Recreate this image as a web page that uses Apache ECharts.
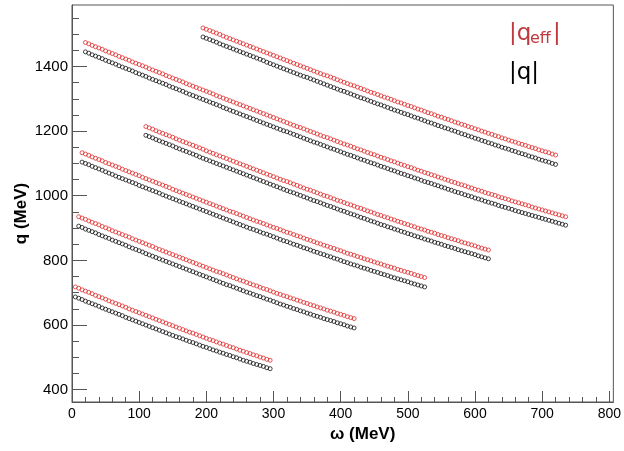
<!DOCTYPE html>
<html>
<head>
<meta charset="utf-8">
<script src="https://cdn.jsdelivr.net/npm/echarts@6/dist/echarts.min.js"></script>
<style>
	html, body { margin: 0; padding: 0; background: #fff; }
	#chart { width: 624px; height: 451px; }
</style>
</head>
<body>
<div id="chart"></div>
<script>
// omega grid: every series is sampled every 5 MeV from its own start
const omegaStep = 5
const omegaStart = [5, 10, 15, 110, 20, 195]

// |q| (black) and |q_eff| (red), MeV, one array per kinematic line
const q1 = [687,683,679,674,670,666,662,658,653,649,645,641,637,633,629,624,620,616,612,608,604,600,596,592,588,584,580,576,572,568,564,561,557,553,549,546,542,538,534,531,527,523,520,516,513,509,506,502,499,495,491,488,485,481,478,475,472,468,465]
const qEff1 = [718,714,709,705,701,697,692,688,684,680,675,671,667,663,659,655,650,646,642,638,634,630,626,622,618,614,610,606,602,598,594,590,586,582,578,575,571,567,563,559,555,552,548,544,541,537,533,530,526,522,519,515,512,508,505,501,498,494,491]

const q2 = [906,902,897,893,889,885,880,876,872,868,863,859,855,851,847,842,838,834,830,826,821,817,813,809,805,801,797,793,789,785,781,777,773,769,765,761,757,753,749,745,741,737,733,729,725,722,718,714,710,706,702,699,695,691,688,684,680,677,673,669,665,662,658,655,651,648,644,641,637,634,630,627,624,620,617,614,611,607,604,601,597,594,591]
const qEff2 = [935,931,927,922,918,914,910,905,901,897,892,888,884,880,876,872,867,863,859,855,851,847,843,838,834,830,826,822,818,814,810,806,802,798,794,790,786,782,778,774,770,766,763,759,755,751,747,743,739,736,732,728,724,721,717,713,710,706,702,698,695,691,688,684,681,677,674,670,667,663,660,656,653,650,646,643,640,636,633,630,626,623,620]

const q3 = [1104,1100,1096,1091,1087,1083,1079,1074,1070,1066,1061,1057,1053,1049,1045,1041,1037,1032,1028,1024,1020,1016,1012,1008,1003,999,995,991,987,983,979,975,971,967,963,959,955,951,947,943,939,935,931,927,923,919,915,911,907,903,899,896,892,888,884,881,877,873,869,865,861,858,854,850,847,843,839,836,832,828,825,821,818,814,811,807,804,800,796,793,789,786,783,779,776,773,769,766,763,759,756,753,749,746,743,740,737,734,730,727,724,721,718]
const qEff3 = [1133,1129,1125,1120,1116,1112,1108,1103,1099,1095,1091,1087,1082,1078,1074,1070,1066,1062,1057,1053,1049,1045,1041,1037,1033,1029,1025,1020,1016,1012,1008,1004,1000,996,992,988,984,980,976,972,968,964,960,956,952,949,945,941,937,933,929,925,921,918,914,910,906,902,899,895,891,887,884,880,876,873,869,865,862,858,854,851,847,844,840,837,833,830,826,822,819,816,812,809,805,802,799,795,792,789,785,782,779,776,772,769,766,763,760,756,753,750,747]

const q4 = [1187,1183,1179,1174,1170,1166,1162,1158,1154,1149,1145,1141,1137,1133,1129,1125,1120,1116,1112,1108,1104,1100,1096,1092,1088,1084,1080,1076,1072,1068,1064,1060,1056,1052,1048,1044,1040,1036,1032,1028,1024,1020,1016,1012,1009,1005,1001,997,993,989,985,982,978,974,970,967,963,959,955,952,948,944,941,937,933,930,926,922,919,915,911,908,904,901,897,894,890,887,883,880,876,873,870,866,863,860,856,853,850,846,843,840,837,833,830,827,824,821,818,814,811,808,805]
const qEff4 = [1214,1210,1206,1201,1197,1193,1189,1185,1181,1176,1172,1168,1164,1160,1156,1152,1148,1144,1139,1135,1131,1127,1123,1119,1115,1111,1107,1103,1099,1095,1091,1087,1083,1079,1075,1071,1067,1063,1059,1055,1051,1047,1044,1040,1036,1032,1028,1024,1020,1017,1013,1009,1005,1001,998,994,990,986,983,979,975,972,968,964,961,957,953,950,946,942,939,935,932,928,925,921,918,914,911,907,904,900,897,894,890,887,884,880,877,874,870,867,864,861,857,854,851,848,845,841,838,835,832]

const q5 = [1445,1441,1436,1432,1428,1424,1419,1415,1411,1407,1402,1398,1394,1390,1386,1381,1377,1373,1369,1364,1360,1356,1352,1348,1344,1339,1335,1331,1327,1323,1318,1314,1310,1306,1302,1298,1294,1290,1286,1282,1278,1273,1269,1265,1261,1257,1253,1249,1245,1241,1237,1233,1229,1225,1221,1217,1213,1209,1205,1201,1198,1194,1190,1186,1182,1178,1174,1170,1166,1163,1159,1155,1151,1147,1144,1140,1136,1132,1128,1125,1121,1117,1113,1110,1106,1102,1099,1095,1091,1088,1084,1080,1077,1073,1069,1066,1062,1059,1055,1052,1048,1044,1041,1038,1034,1031,1027,1024,1020,1017,1013,1010,1007,1003,1000,997,993,990,987,983,980,977,974,970,967,964,961,958,954,951,948,945,942,939,936,933,930,927,924,921,918,915,912,909]
const qEff5 = [1474,1470,1465,1461,1457,1453,1448,1444,1440,1436,1431,1427,1423,1419,1414,1410,1406,1402,1398,1393,1389,1385,1381,1377,1372,1368,1364,1360,1356,1352,1347,1343,1339,1335,1331,1327,1323,1319,1315,1310,1306,1302,1298,1294,1290,1286,1282,1278,1274,1270,1266,1262,1258,1254,1250,1246,1242,1238,1234,1230,1226,1222,1218,1214,1211,1207,1203,1199,1195,1191,1187,1183,1180,1176,1172,1168,1164,1160,1157,1153,1149,1145,1142,1138,1134,1130,1127,1123,1119,1116,1112,1108,1105,1101,1097,1094,1090,1087,1083,1079,1076,1072,1069,1065,1062,1058,1055,1051,1048,1044,1041,1037,1034,1031,1027,1024,1020,1017,1014,1010,1007,1004,1001,997,994,991,988,984,981,978,975,972,969,965,962,959,956,953,950,947,944,941,938,935]

const q6 = [1491,1487,1483,1479,1475,1470,1466,1462,1458,1454,1450,1446,1442,1438,1434,1430,1426,1422,1418,1413,1409,1405,1401,1397,1393,1389,1385,1381,1377,1373,1369,1366,1362,1358,1354,1350,1346,1342,1338,1334,1330,1326,1323,1319,1315,1311,1307,1303,1300,1296,1292,1288,1284,1281,1277,1273,1269,1265,1262,1258,1254,1251,1247,1243,1240,1236,1232,1228,1225,1221,1217,1214,1210,1207,1203,1200,1196,1192,1189,1185,1182,1178,1175,1171,1168,1164,1161,1157,1154,1150,1147,1144,1140,1137,1133,1130,1127,1123,1120,1117,1113,1110,1107,1104,1100,1097]
const qEff6 = [1519,1515,1511,1507,1503,1499,1494,1490,1486,1482,1478,1474,1470,1466,1462,1458,1454,1450,1446,1442,1438,1434,1430,1426,1422,1418,1414,1410,1406,1402,1398,1394,1390,1386,1382,1378,1374,1371,1367,1363,1359,1355,1351,1347,1343,1340,1336,1332,1328,1324,1320,1317,1313,1309,1305,1302,1298,1294,1290,1287,1283,1279,1276,1272,1268,1265,1261,1257,1254,1250,1246,1243,1239,1236,1232,1228,1225,1221,1218,1214,1211,1207,1204,1200,1197,1193,1190,1186,1183,1179,1176,1172,1169,1166,1162,1159,1156,1152,1149,1146,1142,1139,1136,1133,1129,1126]

const qLines = [q1, q2, q3, q4, q5, q6]
const qEffLines = [qEff1, qEff2, qEff3, qEff4, qEff5, qEff6]

// axis ticks
const xTicks = [0, 100, 200, 300, 400, 500, 600, 700, 800]
const xMinorTicks = [0, 20, 40, 60, 80, 100, 120, 140, 160, 180, 200, 220, 240, 260, 280, 300, 320, 340, 360, 380, 400, 420, 440, 460, 480, 500, 520, 540, 560, 580, 600, 620, 640, 660, 680, 700, 720, 740, 760, 780, 800]
const yTicks = [400, 600, 800, 1000, 1200, 1400]
const yMinorTicks = [400, 450, 500, 550, 600, 650, 700, 750, 800, 850, 900, 950, 1000, 1050, 1100, 1150, 1200, 1250, 1300, 1350, 1400, 1450, 1500, 1550]

const RED = '#e0302e'
const BLACK = '#151515'
const AXIS = '#555'
const FONT = 'Liberation Sans'
const LEGEND_FONT = 'DejaVu Sans'

const toPoints = (line, k) => line.map((q, i) => [omegaStart[k] + i * omegaStep, q])

const markerSeries = (lines, color, name) =>
	lines.map((line, k) => ({
		name: name,
		type: 'scatter',
		symbol: 'circle',
		symbolSize: 4,
		itemStyle: { color: 'transparent', borderColor: color, borderWidth: 1 },
		data: toPoints(line, k)
	}))

const xBase = { type: 'value', min: 0, max: 806, position: 'bottom', splitLine: { show: false } }
const yBase = { type: 'value', min: 362, max: 1590, position: 'left', splitLine: { show: false } }

const option = {
	animation: false,
	backgroundColor: '#fff',
	grid: { left: 72, right: 6, top: 5, bottom: 49, show: true, borderColor: AXIS, borderWidth: 1 },
	xAxis: [
		{
			...xBase,
			axisLine: { show: true, onZero: false, lineStyle: { color: AXIS } },
			axisTick: { inside: true, length: 11, customValues: xTicks, lineStyle: { color: AXIS } },
			axisLabel: { customValues: xTicks, fontSize: 14, fontFamily: FONT, color: '#000', margin: 5 },
			name: 'ω (MeV)',
			nameLocation: 'middle',
			nameGap: 14,
			nameTextStyle: { fontSize: 17, fontWeight: 'bold', fontFamily: FONT, color: '#000', padding: [0, 0, 0, 40] }
		},
		{
			...xBase,
			axisLine: { show: false },
			axisTick: { inside: true, length: 5, customValues: xMinorTicks, lineStyle: { color: AXIS } },
			axisLabel: { show: false }
		}
	],
	yAxis: [
		{
			...yBase,
			axisLine: { show: true, onZero: false, lineStyle: { color: AXIS } },
			axisTick: { inside: true, length: 15, customValues: yTicks, lineStyle: { color: AXIS } },
			axisLabel: { customValues: yTicks, fontSize: 15, fontFamily: FONT, color: '#000', margin: 4, formatter: v => String(v) },
			name: 'q (MeV)',
			nameLocation: 'middle',
			nameRotate: 90,
			nameGap: 42,
			nameMoveOverlap: false,
			nameTextStyle: { fontSize: 17, fontWeight: 'bold', fontFamily: FONT, color: '#000', padding: [0, 20, 0, 0] }
		},
		{
			...yBase,
			axisLine: { show: false },
			axisTick: { inside: true, length: 7, customValues: yMinorTicks, lineStyle: { color: AXIS } },
			axisLabel: { show: false }
		}
	],
	series: [...markerSeries(qEffLines, RED, '|q_eff|'), ...markerSeries(qLines, BLACK, '|q|')],
	graphic: [
		{ type: 'text', x: 509, y: 34, style: { text: '|q', fontSize: 23, fontFamily: LEGEND_FONT, fill: '#c0393f', verticalAlign: 'middle' } },
		{ type: 'text', x: 530, y: 39, style: { text: 'eff', fontSize: 16, fontFamily: LEGEND_FONT, fill: '#c0393f', verticalAlign: 'middle' } },
		{ type: 'text', x: 553, y: 34, style: { text: '|', fontSize: 23, fontFamily: LEGEND_FONT, fill: '#c0393f', verticalAlign: 'middle' } },
		{ type: 'text', x: 509, y: 73, style: { text: '|q|', fontSize: 23, fontFamily: LEGEND_FONT, fill: '#000', verticalAlign: 'middle' } }
	]
}

echarts.init(document.getElementById('chart')).setOption(option)
</script>
</body>
</html>
